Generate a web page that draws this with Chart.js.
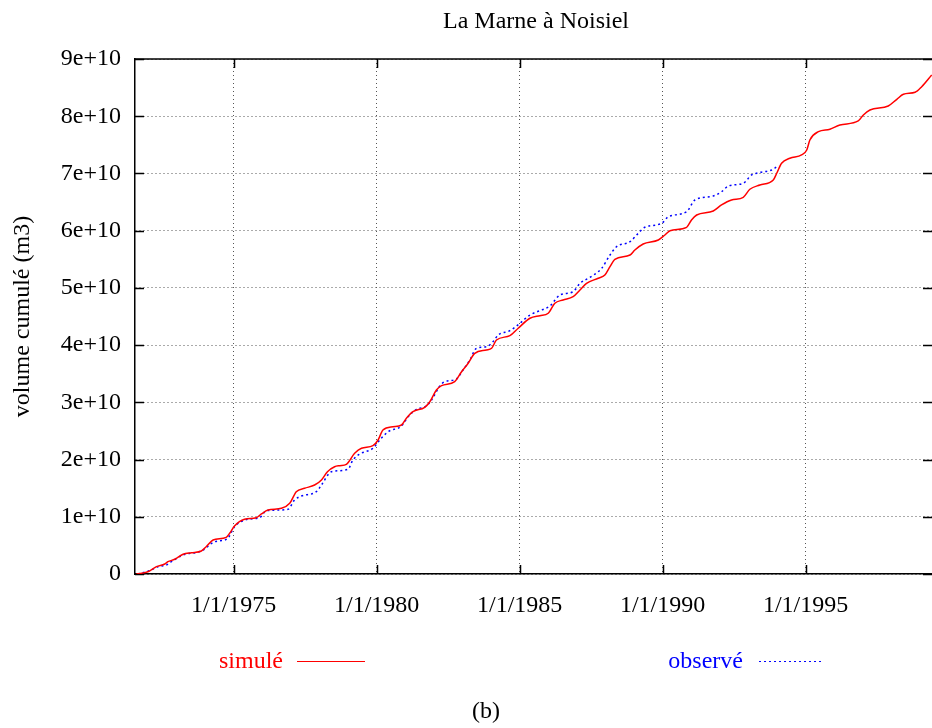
<!DOCTYPE html>
<html><head><meta charset="utf-8">
<style>html,body{margin:0;padding:0;background:#fff;}#wrap{width:932px;height:728px;position:relative;}</style>
<script src="https://cdn.jsdelivr.net/npm/chart.js@4.4.1/dist/chart.umd.min.js"></script>
</head><body><div id="wrap"><canvas id="c" width="932" height="728"></canvas></div>
<script>
// Decimal years
const simYears = [1971.60,1972.00,1972.30,1972.59,1972.70,1972.94,1973.23,1973.52,1973.87,1974.04,1974.28,1974.74,1974.86,1975.03,1975.38,1975.79,1975.97,1976.20,1976.67,1976.96,1977.19,1977.48,1977.83,1978.07,1978.28,1978.53,1978.71,1978.94,1979.23,1979.47,1979.87,1980.05,1980.22,1980.57,1980.87,1981.04,1981.27,1981.68,1981.86,1982.09,1982.27,1982.73,1982.97,1983.20,1983.43,1983.84,1984.02,1984.19,1984.66,1984.95,1985.36,1985.71,1986.00,1986.23,1986.52,1986.87,1987.11,1987.34,1987.75,1987.98,1988.16,1988.33,1988.86,1989.03,1989.32,1989.85,1990.08,1990.26,1990.84,1991.01,1991.19,1991.77,1992.06,1992.41,1992.82,1993.05,1993.40,1993.87,1993.99,1994.16,1994.45,1994.86,1995.04,1995.15,1995.45,1995.85,1996.20,1996.84,1997.02,1997.25,1997.89,1998.19,1998.42,1998.83,1999.06,1999.41];
// Cumulated volume, units of 1e10 m3
const simVolumes = [0,0.04,0.128,0.175,0.215,0.257,0.344,0.372,0.402,0.477,0.594,0.641,0.711,0.839,0.956,0.984,1.049,1.118,1.148,1.236,1.438,1.498,1.555,1.643,1.788,1.875,1.893,1.917,2.109,2.197,2.242,2.342,2.517,2.574,2.604,2.721,2.836,2.913,3.011,3.216,3.291,3.361,3.535,3.682,3.857,3.915,3.944,4.089,4.165,4.294,4.469,4.514,4.556,4.731,4.789,4.846,4.963,5.080,5.168,5.225,5.371,5.500,5.575,5.662,5.767,5.837,5.924,6.000,6.059,6.187,6.274,6.344,6.449,6.536,6.583,6.723,6.798,6.886,7.003,7.178,7.265,7.323,7.410,7.585,7.730,7.772,7.847,7.917,8.022,8.109,8.179,8.296,8.383,8.418,8.516,8.721];
const obsYears = [1971.65,1972.12,1972.35,1972.65,1972.82,1973.23,1973.87,1974.34,1974.78,1975.03,1975.50,1975.91,1976.14,1976.90,1977.13,1977.37,1977.89,1978.07,1978.42,1979.00,1979.17,1979.41,1979.87,1980.11,1980.40,1980.87,1981.10,1981.39,1981.74,1981.92,1982.21,1982.38,1982.79,1983.02,1983.26,1983.49,1983.84,1984.07,1984.25,1984.66,1985.01,1985.36,1985.71,1986.06,1986.41,1986.87,1987.11,1987.46,1987.87,1988.16,1988.39,1988.86,1989.15,1989.38,1989.97,1990.20,1990.84,1991.13,1991.77,1992.06,1992.30,1992.82,1993.11,1993.35,1993.87,1994.05];
const obsVolumes = [0,0.070,0.128,0.157,0.215,0.332,0.402,0.564,0.617,0.827,0.956,0.984,1.106,1.131,1.293,1.363,1.438,1.555,1.788,1.830,1.992,2.097,2.197,2.342,2.487,2.587,2.749,2.878,2.936,3.041,3.286,3.361,3.408,3.565,3.740,3.944,3.972,4.060,4.177,4.252,4.381,4.526,4.602,4.684,4.876,4.934,5.080,5.185,5.343,5.575,5.720,5.807,5.954,6.059,6.129,6.244,6.332,6.536,6.606,6.681,6.781,6.828,6.973,7.013,7.073,7.148];
const xTickYears = [1975,1980,1985,1990,1995];
const xTickLabels = ['1/1/1975','1/1/1980','1/1/1985','1/1/1990','1/1/1995'];
const yTickValues = [0,1,2,3,4,5,6,7,8,9];
const yTickLabels = ['0','1e+10','2e+10','3e+10','4e+10','5e+10','6e+10','7e+10','8e+10','9e+10'];
const seriesLabels = ['simulé','observé'];
const seriesColors = ['#ff0000','#0000ff'];

const FONT = 'Liberation Serif';

const decorations = {
  id: 'decorations',
  beforeDatasetsDraw(chart) {
    const {ctx, chartArea: a, scales} = chart;
    ctx.save();
    ctx.strokeStyle = '#000';
    ctx.lineWidth = 1.5;
    ctx.beginPath();
    ctx.moveTo(a.left, a.top); ctx.lineTo(a.right, a.top);
    ctx.stroke();
    ctx.lineWidth = 1.5;
    ctx.beginPath();
    scales.y.ticks.forEach(t => {
      const p = Math.round(scales.y.getPixelForValue(t.value)) + 0.5;
      ctx.moveTo(a.left, p); ctx.lineTo(a.left + 9, p);
      ctx.moveTo(a.right, p); ctx.lineTo(a.right - 9, p);
    });
    scales.x.ticks.forEach(t => {
      const p = Math.round(scales.x.getPixelForValue(t.value)) + 0.5;
      ctx.moveTo(p, a.bottom); ctx.lineTo(p, a.bottom - 9);
      ctx.moveTo(p, a.top); ctx.lineTo(p, a.top + 9);
    });
    ctx.stroke();
    ctx.restore();
  },
  afterDraw(chart) {
    const {ctx} = chart;
    ctx.save();
    ctx.font = '24px "' + FONT + '"';
    ctx.textBaseline = 'middle';
    ctx.fillStyle = '#000';
    ctx.textAlign = 'center';
    ctx.fillText('La Marne à Noisiel', 536, 22);
    // legend
    const ds = chart.data.datasets;
    const entries = [{tx: 283, x1: 297, x2: 365}, {tx: 743, x1: 759, x2: 823}];
    ds.forEach((d, i) => {
      const e = entries[i];
      ctx.textAlign = 'right';
      ctx.fillStyle = d.borderColor;
      ctx.fillText(d.label, e.tx, 662);
      ctx.strokeStyle = d.borderColor;
      ctx.lineWidth = 1.2;
      ctx.setLineDash(d.borderDash || []);
      ctx.beginPath();
      ctx.moveTo(e.x1, 661.5); ctx.lineTo(e.x2, 661.5);
      ctx.stroke();
      ctx.setLineDash([]);
    });
    ctx.fillStyle = '#000';
    ctx.textAlign = 'center';
    ctx.fillText('(b)', 486, 712);
    ctx.restore();
  }
};

new Chart(document.getElementById('c'), {
  type: 'line',
  data: {
    datasets: [
      {label: seriesLabels[0], data: simYears.map((x, i) => ({x, y: simVolumes[i]})), borderColor: seriesColors[0], borderWidth: 1.5, pointRadius: 0, fill: false, cubicInterpolationMode: 'monotone'},
      {label: seriesLabels[1], data: obsYears.map((x, i) => ({x, y: obsVolumes[i]})), borderColor: seriesColors[1], borderWidth: 1.5, borderDash: [2, 3], pointRadius: 0, fill: false, cubicInterpolationMode: 'monotone'}
    ]
  },
  options: {
    responsive: false, animation: false, devicePixelRatio: 1,
    layout: {padding: {top: 59, right: 0, left: 0, bottom: 0}},
    plugins: {legend: {display: false}, title: {display: false}, tooltip: {enabled: false}},
    scales: {
      x: {
        type: 'linear', min: 1971.55, max: 1999.42,
        afterBuildTicks: s => { s.ticks = xTickYears.map(v => ({value: v})); },
        afterFit: s => { s.height = 154; },
        ticks: {callback: v => xTickLabels[xTickYears.indexOf(v)], font: {family: FONT, size: 24}, color: '#000', padding: 17, maxRotation: 0, autoSkip: false},
        grid: {color: '#555', lineWidth: 1, drawTicks: false},
        border: {display: true, color: '#000', width: 1.5, dash: [1, 3]}
      },
      y: {
        min: 0, max: 9,
        afterBuildTicks: s => { s.ticks = yTickValues.map(v => ({value: v})); },
        afterFit: s => { s.width = 135; },
        ticks: {callback: v => yTickLabels[yTickValues.indexOf(v)], font: {family: FONT, size: 24}, color: '#000', padding: 14},
        title: {display: true, text: 'volume cumulé (m3)', font: {family: FONT, size: 24}, color: '#000', padding: {top: 8, bottom: 0}},
        grid: {color: '#555', lineWidth: 1, drawTicks: false},
        border: {display: true, color: '#000', width: 1.5, dash: [1, 3]}
      }
    }
  },
  plugins: [decorations]
});
</script></body></html>
